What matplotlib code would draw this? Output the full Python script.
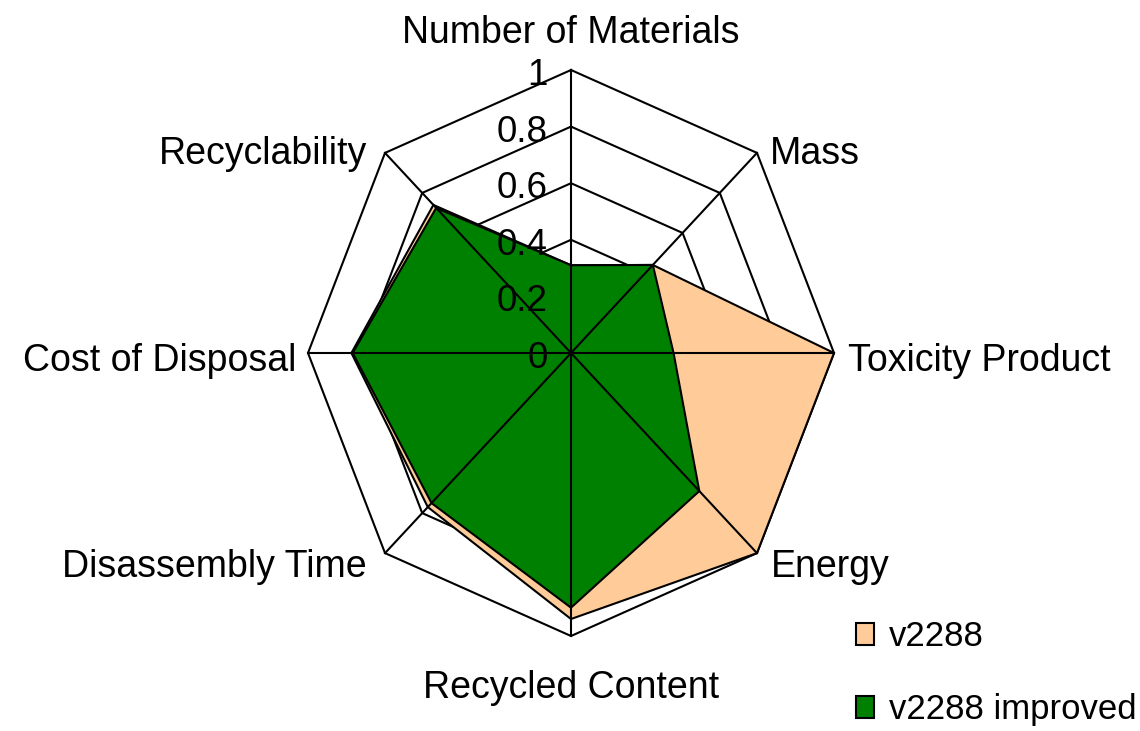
import numpy as np
import matplotlib
matplotlib.use("Agg")
import matplotlib.pyplot as plt
from matplotlib.patches import Patch

plt.rcParams['font.family'] = ['Liberation Sans', 'DejaVu Sans']

categories = ["Number of Materials", "Mass", "Toxicity Product", "Energy",
              "Recycled Content", "Disassembly Time", "Cost of Disposal",
              "Recyclability"]
v2288 = [0.31, 0.44, 1.00, 1.00, 0.94, 0.77, 0.835, 0.74]
v2288_improved = [0.31, 0.44, 0.39, 0.69, 0.90, 0.75, 0.83, 0.725]
series_names = ["v2288", "v2288 improved"]
ring_levels = [0.2, 0.4, 0.6, 0.8, 1.0]
tick_labels = ["0", "0.2", "0.4", "0.6", "0.8", "1"]
tick_values = [0.0, 0.2, 0.4, 0.6, 0.8, 1.0]

W, H = 1140, 731
CX, CY = 571, 353      # center in pixels
RX, RY = 263, 283      # radius (value 1) in pixels

fig = plt.figure(figsize=(W / 100, H / 100), dpi=100)
ax = fig.add_axes([0, 0, 1, 1])
ax.set_xlim((0 - CX) / RX, (W - CX) / RX)
ax.set_ylim((CY - H) / RY, CY / RY)
ax.axis('off')

def dx(px):
    return (px - CX) / RX

def dy(py):
    return (CY - py) / RY

n = len(categories)
theta = np.deg2rad(90 - np.arange(n) * 360 / n)
ct, st = np.cos(theta), np.sin(theta)

def closed(vals):
    v = np.asarray(vals, dtype=float)
    x = v * ct
    y = v * st
    return np.append(x, x[0]), np.append(y, y[0])

LW = 1.5
# rings
for r in ring_levels:
    x, y = closed([r] * n)
    ax.plot(x, y, color='black', lw=LW, zorder=1, solid_joinstyle='miter')

# series
colors = ['#FFCC99', '#008000']
for i, (vals, c) in enumerate(zip([v2288, v2288_improved], colors)):
    x, y = closed(vals)
    ax.fill(x, y, facecolor=c, edgecolor='black', lw=LW, zorder=2 + i,
            joinstyle='miter')

# spokes
for k in range(n):
    ax.plot([0, ct[k]], [0, st[k]], color='black', lw=LW, zorder=5)

# tick labels
for v, t in zip(tick_values, tick_labels):
    ax.text(dx(548), v - 15 / RY, t, ha='right', va='baseline',
            fontsize=26.5, zorder=6)

# category labels (pixel anchor positions)
label_pos = [
    (571, 43, 'center'),
    (770, 164, 'left'),
    (848, 371, 'left'),
    (771, 577, 'left'),
    (571, 698, 'center'),
    (367, 577, 'right'),
    (296, 371, 'right'),
    (367, 164, 'right'),
]
for name, (px, py, ha) in zip(categories, label_pos):
    ax.text(dx(px), dy(py), name, ha=ha, va='baseline', fontsize=27)

handles = [Patch(facecolor=c, edgecolor='black', lw=1.5) for c in colors]
leg = ax.legend(handles, series_names, loc='center left',
                bbox_to_anchor=(856 / W, 1 - 673 / H),
                bbox_transform=fig.transFigure, frameon=False,
                fontsize=25, handlelength=0.52, handleheight=0.58,
                handletextpad=0.42, labelspacing=1.15, borderpad=0,
                borderaxespad=0)

fig.savefig("out.png", dpi=100)
